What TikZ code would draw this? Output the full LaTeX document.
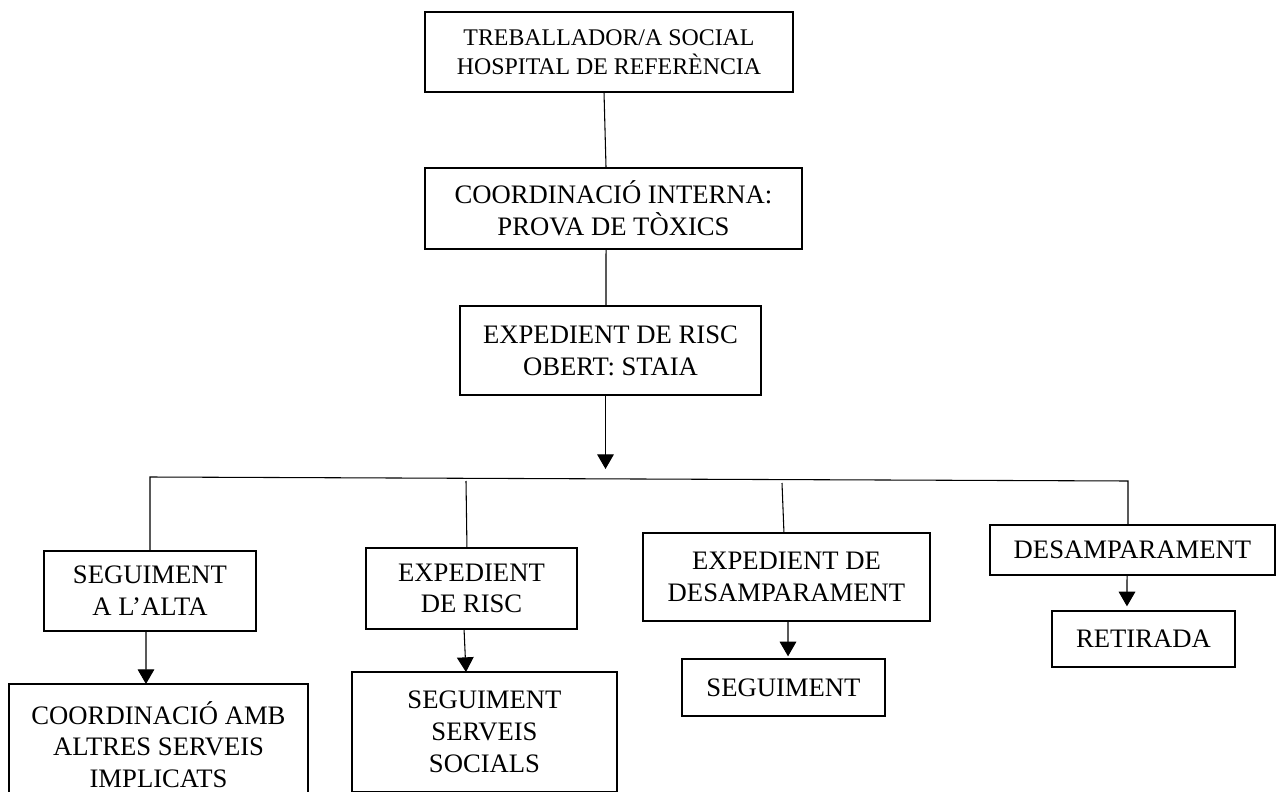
\documentclass[tikz,border=0pt]{standalone}
\usepackage{fontspec}
\setmainfont{Liberation Serif}
\usetikzlibrary{arrows.meta}
\tikzset{
  bx/.style 2 args={draw, line width=1.9pt, rectangle, inner sep=0pt, outer sep=0pt,
    align=center, minimum width=#1*0.75pt, minimum height=#2*0.75pt,
    font=\fontsize{20}{23.8}\selectfont},
  smallfont/.style={font=\fontsize{17.9}{22}\selectfont},
  ln/.style={line width=0.8pt},
  arr/.style={line width=0.8pt, -{Triangle[width=12.5pt,length=11pt]}}
}
\begin{document}
\begin{tikzpicture}[x=0.75pt,y=-0.75pt]
\useasboundingbox (0,0) rectangle (1279,792);
\clip (0,0) rectangle (1279,792);
\fill[white] (0,0) rectangle (1279,792);

\node[bx={368}{80}, smallfont] (top) at (609,52) {TREBALLADOR/A SOCIAL\\HOSPITAL DE REFERÈNCIA};
\node[bx={377}{81}] (coord) at (613.5,208.5) {COORDINACIÓ INTERNA:\\PROVA DE TÒXICS};
\node[bx={301}{89}] (staia) at (610.5,350.5) {EXPEDIENT DE RISC\\OBERT: STAIA};

\node[bx={212}{80}] (alta) at (150,591) {SEGUIMENT\\A L’ALTA};
\node[bx={299}{121}] (amb) at (158.5,744.5) {COORDINACIÓ AMB\\ALTRES SERVEIS\\IMPLICATS};
\node[bx={211}{81}] (risc) at (471.5,588.5) {EXPEDIENT\\DE RISC};
\node[bx={265}{120}] (socials) at (484.5,732) {SEGUIMENT\\SERVEIS\\SOCIALS};
\node[bx={287}{88}] (expdes) at (786.5,577) {EXPEDIENT DE\\DESAMPARAMENT};
\node[bx={203}{57}] (seg) at (783.5,687.5) {SEGUIMENT};
\node[bx={285}{50}] (desamp) at (1132.5,550) {DESAMPARAMENT};
\node[bx={183}{56}] (retirada) at (1143.5,639) {RETIRADA};

\coordinate (tip) at (605.5,469);
\coordinate (busL) at (150,477);
\coordinate (busR) at (1128,481);
\coordinate (d2) at (466,481);
\coordinate (d3) at (782,483);

\draw[ln] ([xshift=-3.75pt]top.south) -- ([xshift=-5.6pt]coord.north);
\draw[ln] ([xshift=-5.6pt]coord.south) -- ([xshift=-3.4pt]staia.north);
\draw[arr] ([xshift=-3.75pt]staia.south) -- (tip);
\draw[ln] (alta.north) -- (busL) -- (busR) -- ([xshift=-3.4pt]desamp.north);
\draw[ln] (d2) -- ([xshift=-3.4pt]risc.north);
\draw[ln] (d3) -- ([xshift=-1.9pt]expdes.north);

\draw[arr] ([xshift=-3pt]alta.south) -- ([xshift=-9.4pt]amb.north);
\draw[arr] ([xshift=-5.6pt]risc.south) -- ([xshift=-13.9pt]socials.north);
\draw[arr] ([xshift=1.1pt]expdes.south) -- ([xshift=3.4pt,yshift=2pt]seg.north);
\draw[arr] ([xshift=-4.1pt]desamp.south) -- ([xshift=-12.4pt,yshift=3.5pt]retirada.north);
\end{tikzpicture}
\end{document}
